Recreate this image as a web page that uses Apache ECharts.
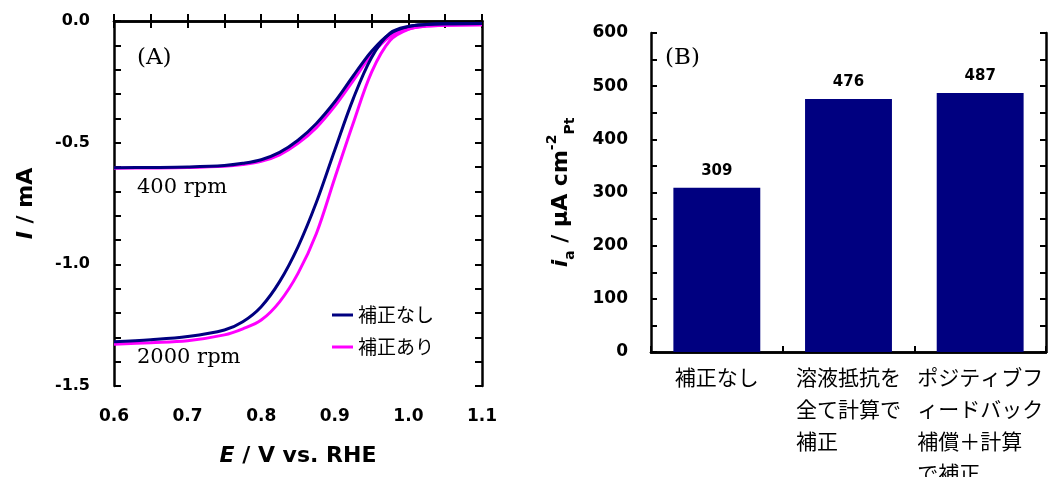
<!DOCTYPE html>
<html><head><meta charset="utf-8">
<script src="https://cdn.jsdelivr.net/npm/echarts@6/dist/echarts.min.js"></script>
<style>html,body{margin:0;padding:0;background:#fff}#c{width:1051px;height:477px}</style>
</head><body><div id="c"></div>
<script>
// Panel A: potential (V vs RHE) and currents (mA)
const potentials = [0.60, 0.65, 0.70, 0.75, 0.775, 0.80, 0.825, 0.85, 0.875, 0.90, 0.925, 0.95, 0.975, 1.00, 1.025, 1.05, 1.10];
const i400Raw   = [-0.603, -0.602, -0.600, -0.594, -0.585, -0.570, -0.540, -0.490, -0.421, -0.332, -0.226, -0.124, -0.052, -0.023, -0.014, -0.011, -0.010];
const i400Cor   = [-0.605, -0.604, -0.602, -0.597, -0.590, -0.577, -0.550, -0.503, -0.438, -0.350, -0.245, -0.138, -0.064, -0.033, -0.021, -0.017, -0.015];
const i2000Raw  = [-1.318, -1.310, -1.297, -1.270, -1.236, -1.174, -1.071, -0.928, -0.745, -0.530, -0.320, -0.150, -0.050, -0.022, -0.014, -0.011, -0.010];
const i2000Cor  = [-1.328, -1.322, -1.314, -1.290, -1.265, -1.229, -1.154, -1.037, -0.873, -0.645, -0.420, -0.210, -0.080, -0.034, -0.021, -0.017, -0.015];
const seriesNames = ['補正なし', '補正あり'];
// Panel B
const barCategories = ['補正なし', '溶液抵抗を\n全て計算で\n補正', 'ポジティブフ\nィードバック\n補償＋計算\nで補正'];
const barValues = [309, 476, 487];

const NAVY = '#000080', MAG = '#ff00ff';
const SANS = '"DejaVu Sans", "Liberation Sans", Arial, sans-serif';
const JP = '"Noto Sans CJK JP", sans-serif';
const SERIF = '"DejaVu Serif", serif';
const pts = arr => potentials.map((e, k) => [e, arr[k]]);

const tickStyle = {color: '#000', width: 2};
const axLine = {show: true, lineStyle: {color: '#000', width: 2.5}};

const chart = echarts.init(document.getElementById('c'), null, {renderer: 'canvas'});
const lineSeries = (name, arr, color) => ({
  type: 'line', name, data: pts(arr), xAxisIndex: 0, yAxisIndex: 0,
  smooth: 0.35, showSymbol: false, symbol: 'none',
  lineStyle: {color, width: 3}, itemStyle: {color}, animation: false
});
const bold = (size, extra) => Object.assign({fontFamily: SANS, fontWeight: 'bold', fontSize: size, color: '#000'}, extra || {});

chart.setOption({
  animation: false,
  backgroundColor: '#fff',
  grid: [
    {left: 114, top: 21, width: 368, height: 365, containLabel: false, outerBoundsMode: 'none'},
    {left: 651, top: 33, width: 395, height: 319, containLabel: false, outerBoundsMode: 'none'}
  ],
  xAxis: [
    {type: 'value', gridIndex: 0, position: 'bottom', min: 0.6, max: 1.1, interval: 0.1,
     axisLine: axLine, splitLine: {show: false},
     axisTick: {show: true, inside: true, length: 7, lineStyle: tickStyle},
     minorTick: {show: true, splitNumber: 2, length: 7, lineStyle: tickStyle},
     axisLabel: Object.assign(bold(17), {margin: 22, formatter: v => v.toFixed(1)}),
     name: '{it|E}{n| / V vs. RHE}', nameLocation: 'middle', nameGap: 59,
     nameTextStyle: {rich: {it: bold(22, {fontStyle: 'italic'}), n: bold(22)}}},
    {type: 'value', gridIndex: 0, position: 'top', min: 0.6, max: 1.1, interval: 0.1,
     axisLine: axLine, splitLine: {show: false}, axisLabel: {show: false},
     axisTick: {show: true, inside: true, length: 7, lineStyle: tickStyle},
     minorTick: {show: true, splitNumber: 2, length: 7, lineStyle: tickStyle}},
    {type: 'category', gridIndex: 1, position: 'bottom', data: barCategories,
     axisLine: axLine, splitLine: {show: false},
     axisTick: {show: true, inside: true, length: 6, lineStyle: tickStyle},
     axisLabel: {margin: 9, interval: 0, color: '#000', fontFamily: JP, fontSize: 21, lineHeight: 32,
                 formatter: v => v.split('\n').map(s => '{l|' + s + '}').join('\n'),
                 rich: {l: {align: 'left', fontFamily: JP, fontSize: 21, lineHeight: 32, color: '#000'}}}},
    {type: 'category', gridIndex: 1, position: 'top', data: barCategories,
     axisLine: axLine, axisTick: {show: false}, axisLabel: {show: false}, splitLine: {show: false}}
  ],
  yAxis: [
    {type: 'value', gridIndex: 0, position: 'left', min: -1.5, max: 0, interval: 0.5,
     axisLine: axLine, splitLine: {show: false},
     axisTick: {show: true, inside: true, length: 7, lineStyle: tickStyle},
     minorTick: {show: true, splitNumber: 5, length: 7, lineStyle: tickStyle},
     axisLabel: Object.assign(bold(16), {margin: 24, formatter: v => (Math.abs(v) < 1e-9 ? 0 : v).toFixed(1)}),
     name: '{it|I}{n| / mA}', nameLocation: 'middle', nameGap: 77, nameRotate: 90,
     nameTextStyle: {rich: {it: bold(22, {fontStyle: 'italic'}), n: bold(22)}}},
    {type: 'value', gridIndex: 0, position: 'right', min: -1.5, max: 0, interval: 0.5,
     axisLine: axLine, splitLine: {show: false}, axisLabel: {show: false},
     axisTick: {show: true, inside: true, length: 7, lineStyle: tickStyle},
     minorTick: {show: true, splitNumber: 5, length: 7, lineStyle: tickStyle}},
    {type: 'value', gridIndex: 1, position: 'left', min: 0, max: 600, interval: 100,
     axisLine: axLine, splitLine: {show: false},
     axisTick: {show: true, inside: true, length: 6, lineStyle: tickStyle},
     minorTick: {show: true, splitNumber: 2, length: 6, lineStyle: tickStyle},
     axisLabel: Object.assign(bold(17), {margin: 23}),
     name: '{it|i}{sub|a}{n| / μA cm}{sup|-2}{sub|Pt}', nameLocation: 'middle', nameGap: 74, nameRotate: 90,
     nameTextStyle: {rich: {
       it: bold(22, {fontStyle: 'italic', lineHeight: 32}),
       n: bold(22, {lineHeight: 32}),
       sub: bold(14, {verticalAlign: 'bottom', lineHeight: 32}),
       sup: bold(14, {verticalAlign: 'top', lineHeight: 32})}}},
    {type: 'value', gridIndex: 1, position: 'right', min: 0, max: 600, interval: 100,
     axisLine: axLine, splitLine: {show: false}, axisLabel: {show: false},
     axisTick: {show: true, inside: true, length: 6, lineStyle: tickStyle},
     minorTick: {show: true, splitNumber: 2, length: 6, lineStyle: tickStyle}}
  ],
  legend: {
    data: seriesNames, orient: 'vertical', left: 332, top: 305, padding: 0,
    icon: 'rect', itemWidth: 21, itemHeight: 3, itemGap: 12,
    textStyle: {fontFamily: JP, fontSize: 19, color: '#000', lineHeight: 20}
  },
  graphic: [
    {type: 'text', left: 137, top: 47, style: {text: '(A)', font: '23px ' + SERIF, fill: '#000'}},
    {type: 'text', left: 137, top: 177, style: {text: '400 rpm', font: '21px ' + SERIF, fill: '#000'}},
    {type: 'text', left: 137, top: 347, style: {text: '2000 rpm', font: '21px ' + SERIF, fill: '#000'}},
    {type: 'text', left: 665, top: 47, style: {text: '(B)', font: '23px ' + SERIF, fill: '#000'}}
  ],
  series: [
    lineSeries(seriesNames[1], i400Cor, MAG),
    lineSeries(seriesNames[1], i2000Cor, MAG),
    lineSeries(seriesNames[0], i400Raw, NAVY),
    lineSeries(seriesNames[0], i2000Raw, NAVY),
    {type: 'bar', xAxisIndex: 2, yAxisIndex: 2, data: barValues, barWidth: '66%',
     itemStyle: {color: NAVY},
     label: {show: true, position: 'top', distance: 9, fontFamily: SANS, fontWeight: 'bold', fontSize: 15, color: '#000'}}
  ]
});
</script></body></html>
